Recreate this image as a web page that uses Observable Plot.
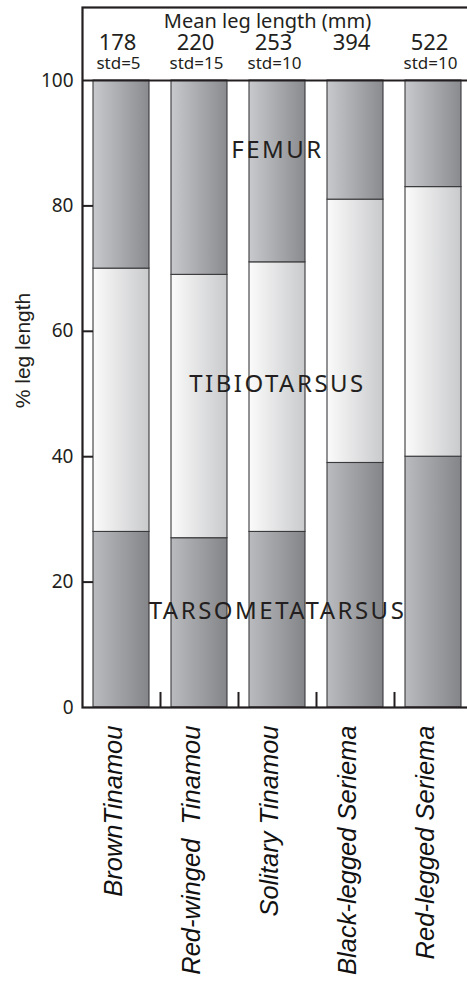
<!DOCTYPE html>
<html><head><meta charset="utf-8">
<script src="https://cdn.jsdelivr.net/npm/d3@7"></script>
<script src="https://cdn.jsdelivr.net/npm/@observablehq/plot@0.6"></script>
<style>
html,body{margin:0;padding:0;background:#fff;overflow:hidden;width:467px;height:986px;}
svg{display:block;}
</style></head><body><div id="chart"></div>
<script>
// ---- data ----
const species = ["BrownTinamou", "Red-winged  Tinamou", "Solitary Tinamou", "Black-legged Seriema", "Red-legged Seriema"];
const segments = ["TARSOMETATARSUS", "TIBIOTARSUS", "FEMUR"];
const tarsometatarsus = [28, 27, 28, 39, 40];
const tibiotarsus = [42, 42, 43, 42, 43];
const femur = [30, 31, 29, 19, 17];
const meanLength = ["178", "220", "253", "394", "522"];
const stdLabels = ["std=5", "std=15", "std=10", "", "std=10"];
const yTicks = [0, 20, 40, 60, 80, 100];
const headerTitle = ["Mean leg length (mm)"];
const yLabel = ["% leg length"];

const series = [tarsometatarsus, tibiotarsus, femur];
const rows = species.flatMap((s, i) => segments.map((seg, k) => ({species: s, segment: seg, value: series[k][i]})));

// label height for each segment: mean of the segment midpoints
const segMid = {};
segments.forEach((seg, k) => {
  segMid[seg] = d3.mean(species, (s, i) => d3.sum(series.slice(0, k), a => a[i]) + series[k][i] / 2);
});
const segLabel = (seg, dy) => Plot.text([seg], {y: d => segMid[d], text: d => d, dy, fontSize: 24, fill: ink, ariaDescription: "segment-labels"});

const ink = "#231f20";
const chart = Plot.plot({
  width: 467, height: 986,
  marginLeft: 82, marginRight: -5, marginTop: 7, marginBottom: 279,
  x: {domain: species, paddingInner: 0.28, paddingOuter: 0.14, axis: null},
  y: {domain: [0, 100], range: [707, 80]},
  color: {domain: segments, range: ["url(#gDarkB)", "url(#gLight)", "url(#gDarkT)"]},
  style: {fontFamily: "Noto Sans", background: "white", color: ink, overflow: "hidden", maxWidth: "none"},
  marks: [
    Plot.barY(rows, {x: "species", y: "value", fill: "segment", stroke: "#3a3a3c", strokeWidth: 1.1}),
    Plot.ruleY([100], {stroke: ink, strokeWidth: 2.2}),
    Plot.frame({stroke: ink, strokeWidth: 2.2}),
    Plot.axisY({ticks: yTicks.slice(1, -1), tickSize: 11, dx: 11, tickFormat: () => "", label: null, stroke: ink, strokeWidth: 2}),
    Plot.text(yTicks, {y: d => d, text: d => String(d), frameAnchor: "left", textAnchor: "end", dx: -9, fontSize: 19, fill: ink}),
    Plot.ruleX(species.slice(0, -1), {x: d => d, dx: 39, y1: 0, y2: 2.4, stroke: ink, strokeWidth: 2}),
    Plot.text(yLabel, {text: d => d, frameAnchor: "left", textAnchor: "middle", rotate: -90, dx: -59, dy: -7, fontSize: 21, fontFamily: "Liberation Sans", fill: ink}),
    Plot.text(headerTitle, {text: d => d, frameAnchor: "top", lineAnchor: "bottom", dx: -10, dy: 20, fontSize: 20, fill: ink}),
    Plot.text(meanLength, {x: (d, i) => species[i], text: d => d, frameAnchor: "top", lineAnchor: "bottom", dx: -4, dy: 42, fontSize: 22, fill: ink}),
    Plot.text(stdLabels, {x: (d, i) => species[i], text: d => d, frameAnchor: "top", lineAnchor: "bottom", dx: -3, dy: 61, fontSize: 17, fill: ink}),
    segLabel("FEMUR", -9),
    segLabel("TIBIOTARSUS", 13),
    segLabel("TARSOMETATARSUS", 5),
    Plot.text(species, {x: d => d, text: d => d, frameAnchor: "bottom", rotate: -90, textAnchor: "end", lineAnchor: "middle", dx: -8, dy: 18, fontSize: 25.5, fontStyle: "italic", fontFamily: "Liberation Sans", fill: "#111"})
  ]
});

const svg = d3.select(chart);
const defs = svg.insert("defs", ":first-child");
function grad(id, a, b) {
  const g = defs.append("linearGradient").attr("id", id).attr("x1", 0).attr("x2", 1).attr("y1", 0).attr("y2", 0);
  g.append("stop").attr("offset", 0).attr("stop-color", a);
  g.append("stop").attr("offset", 1).attr("stop-color", b);
}
grad("gDarkT", "#c8c9cc", "#8a8b8e");
grad("gDarkB", "#babbbe", "#848588");
grad("gLight", "#fbfbfb", "#c9cacc");
svg.selectAll('g[aria-description="segment-labels"] text').style("letter-spacing", "2.5px");
svg.style("overflow", "hidden").style("max-width", "none");
document.getElementById("chart").appendChild(chart);
</script></body></html>
